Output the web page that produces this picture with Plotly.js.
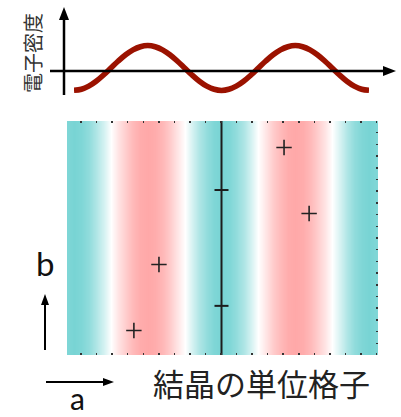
<!DOCTYPE html>
<html>
<head>
<meta charset="utf-8">
<script src="https://cdn.plot.ly/plotly-3.0.1.min.js"></script>
<style>html,body{margin:0;padding:0;background:#fff;}#chart{width:401px;height:417px;}</style>
</head>
<body>
<div id="chart"></div>
<script>
// Fractional coordinate along a (unit cell), sampled
const aFrac = [-0.05, -0.025, 0, 0.025, 0.05, 0.075, 0.1, 0.125, 0.15, 0.175, 0.2, 0.225, 0.25, 0.275, 0.3, 0.325, 0.35, 0.375, 0.4, 0.425, 0.45, 0.475, 0.5,
  0.525, 0.55, 0.575, 0.6, 0.625, 0.65, 0.675, 0.7, 0.725, 0.75, 0.775, 0.8, 0.825, 0.85, 0.875, 0.9, 0.925, 0.95, 0.975, 1, 1.025, 1.05];
// Electron density (cyan = low, pink = high)
const density = [-0.81, -0.95, -1, -0.95, -0.81, -0.59, -0.31, 0, 0.31, 0.59, 0.81, 0.95, 1, 0.95, 0.81, 0.59, 0.31, 0, -0.31, -0.59, -0.81, -0.95, -1,
  -0.95, -0.81, -0.59, -0.31, 0, 0.31, 0.59, 0.81, 0.95, 1, 0.95, 0.81, 0.59, 0.31, 0, -0.31, -0.59, -0.81, -0.95, -1, -0.95, -0.81];
// Curve for the top panel spans a = 0..1
const curveA = aFrac.slice(2, 43);
const curveDensity = density.slice(2, 43);
const cellB = [0, 1];
// Atom positions (fractional a, b)
const atomsA = [0.203, 0.288, 0.712, 0.797];
const atomsB = [0.105, 0.387, 0.887, 0.605];
// Screw axis line and its marks
const axisLineA = [0.5, 0.5];
const axisLineB = [0, 1];
const axisMarkA = [0.5, 0.5];
const axisMarkB = [0.21, 0.705];
// Labels
const yLabelTop = '電子密度';
const cellLabel = '結晶の単位格子';
const labelA = 'a';
const labelB = 'b';

const W = 401, H = 417;
const px = x => x / W;
const py = y => 1 - y / H;

const traces = [
  {
    type: 'heatmap', x: aFrac, y: cellB, z: [density, density],
    zsmooth: 'best', zmin: -1, zmax: 1, showscale: false, hoverinfo: 'skip',
    colorscale: [[0, 'rgb(120,212,212)'], [0.5, 'rgb(255,255,255)'], [1, 'rgb(255,168,168)']],
    xaxis: 'x', yaxis: 'y'
  },
  {
    type: 'scatter', mode: 'lines', x: axisLineA, y: axisLineB,
    line: {color: '#1c1c1c', width: 2}, hoverinfo: 'skip', xaxis: 'x', yaxis: 'y'
  },
  {
    type: 'scatter', mode: 'markers', x: axisMarkA, y: axisMarkB,
    marker: {symbol: 'line-ew', size: 10, line: {color: '#1c1c1c', width: 2}},
    hoverinfo: 'skip', xaxis: 'x', yaxis: 'y', cliponaxis: false
  },
  {
    type: 'scatter', mode: 'markers', x: atomsA, y: atomsB,
    marker: {symbol: 'cross-thin', size: 11, line: {color: '#222', width: 1.6}},
    hoverinfo: 'skip', xaxis: 'x', yaxis: 'y'
  },
  {
    type: 'scatter', mode: 'lines', x: curveA, y: curveDensity,
    line: {color: 'rgb(155,18,0)', width: 5.5, shape: 'spline'},
    hoverinfo: 'skip', xaxis: 'x2', yaxis: 'y2'
  }
];

const arrowColor = '#000';
const shapes = [
  // top panel horizontal axis
  {type: 'line', xref: 'paper', yref: 'paper', x0: px(50), x1: px(386), y0: py(71), y1: py(71), line: {color: arrowColor, width: 2.5}},
  {type: 'path', xref: 'paper', yref: 'paper', path: '', fillcolor: arrowColor, line: {width: 0}, _tri: [[383, 66], [396, 71], [383, 76]]},
  // top panel vertical axis
  {type: 'line', xref: 'paper', yref: 'paper', x0: px(64), x1: px(64), y0: py(95), y1: py(16), line: {color: arrowColor, width: 2.5}},
  {type: 'path', xref: 'paper', yref: 'paper', path: '', fillcolor: arrowColor, line: {width: 0}, _tri: [[59, 20], [64, 7], [69, 20]]},
  // b arrow
  {type: 'line', xref: 'paper', yref: 'paper', x0: px(45), x1: px(45), y0: py(350), y1: py(302), line: {color: arrowColor, width: 2}},
  {type: 'path', xref: 'paper', yref: 'paper', path: '', fillcolor: arrowColor, line: {width: 0}, _tri: [[41, 305], [45, 294], [49, 305]]},
  // a arrow
  {type: 'line', xref: 'paper', yref: 'paper', x0: px(46), x1: px(106), y0: py(382), y1: py(382), line: {color: arrowColor, width: 2}},
  {type: 'path', xref: 'paper', yref: 'paper', path: '', fillcolor: arrowColor, line: {width: 0}, _tri: [[103, 378], [114, 382], [103, 386]]}
];
shapes.forEach(s => {
  if (s._tri) {
    s.path = 'M ' + s._tri.map(p => px(p[0]) + ',' + py(p[1])).join(' L ') + ' Z';
    delete s._tri;
  }
});

const annotations = [
  {text: yLabelTop, xref: 'paper', yref: 'paper', x: px(33), y: py(53), textangle: -90, showarrow: false,
   xanchor: 'center', yanchor: 'middle', font: {family: 'Noto Sans CJK JP', size: 20, color: '#333'}},
  {text: cellLabel, xref: 'paper', yref: 'paper', x: px(261), y: py(382), showarrow: false,
   xanchor: 'center', yanchor: 'middle', font: {family: 'Noto Sans CJK JP', size: 31, color: '#222'}},
  {text: labelB, xref: 'paper', yref: 'paper', x: px(45), y: py(263), showarrow: false,
   xanchor: 'center', yanchor: 'middle', font: {family: 'Lato', size: 33, color: '#111'}},
  {text: labelA, xref: 'paper', yref: 'paper', x: px(77), y: py(398), showarrow: false,
   xanchor: 'center', yanchor: 'middle', font: {family: 'Lato', size: 30, color: '#111'}}
];

const layout = {
  width: W, height: H,
  margin: {l: 0, r: 0, t: 0, b: 0},
  paper_bgcolor: '#fff', plot_bgcolor: 'rgba(0,0,0,0)',
  showlegend: false,
  xaxis: {
    domain: [px(67), px(378)], range: [(67 - 74) / 295, (378 - 74) / 295],
    showgrid: false, zeroline: false, showline: false, showticklabels: false,
    ticks: 'inside', ticklen: 2, tickwidth: 1.5, tickcolor: '#333',
    tick0: (65.5 - 74) / 295, dtick: 15.55 / 295, mirror: 'ticks'
  },
  yaxis: {
    domain: [py(355), py(121)], range: [0, 1], side: 'right',
    showgrid: false, zeroline: false, showline: false, showticklabels: false,
    ticks: 'inside', ticklen: 2, tickwidth: 1.5, tickcolor: '#333',
    tick0: 0, dtick: 0.05
  },
  xaxis2: {
    domain: [px(74), px(369)], range: [0, 1], anchor: 'y2',
    visible: false
  },
  yaxis2: {
    domain: [py(97.1), py(38.9)], range: [-1.3, 1.3], anchor: 'x2',
    visible: false
  },
  shapes: shapes,
  annotations: annotations
};

Plotly.newPlot('chart', traces, layout, {displayModeBar: false, staticPlot: true});
</script>
</body>
</html>
